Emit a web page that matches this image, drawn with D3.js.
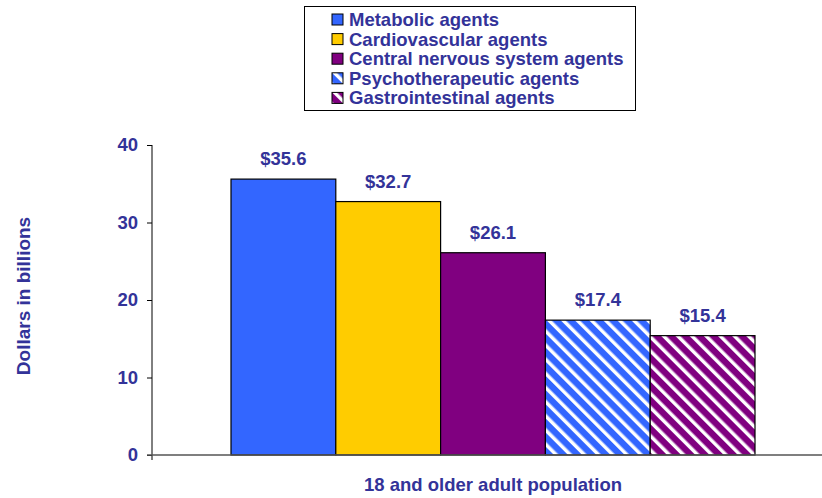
<!DOCTYPE html>
<html>
<head>
<meta charset="utf-8">
<script src="https://cdn.jsdelivr.net/npm/d3@7"></script>
<style>
  body { margin: 0; background: #fff; }
  text { font-family: "Liberation Sans", Arial, sans-serif; font-weight: bold; fill: #333399; }
</style>
</head>
<body>
<div id="chart"></div>
<script>
// data
var categories = ["Metabolic agents", "Cardiovascular agents", "Central nervous system agents",
  "Psychotherapeutic agents", "Gastrointestinal agents"];
var values = [35.6, 32.7, 26.1, 17.4, 15.4];
var colors = ["#3366ff", "#ffcc00", "#800080", "#3366ff", "#800080"];
var hatched = [false, false, false, true, true];
var yTicks = [0, 10, 20, 30, 40];
var groupLabel = "18 and older adult population";

var W = 822, H = 498;
var margin = {top: 145, right: 0, bottom: 43, left: 152};
var h = H - margin.top - margin.bottom;
var fs = "18.5px";

var svg = d3.select("#chart").append("svg")
  .attr("width", W).attr("height", H);

// stripe patterns for the last two series
var defs = svg.append("defs");
categories.forEach(function(c, i) {
  if (!hatched[i]) return;
  var p = defs.append("pattern")
    .attr("id", "hatch" + i)
    .attr("patternUnits", "userSpaceOnUse")
    .attr("width", 10).attr("height", 10)
    .attr("patternTransform", "rotate(-45)");
  p.append("rect").attr("width", 10).attr("height", 10).attr("fill", colors[i]);
  p.append("rect").attr("x", 0).attr("width", 3.5).attr("height", 10).attr("fill", "#fff");
});

var y = d3.scaleLinear().domain([0, 40]).range([margin.top + h, margin.top]);
var x = d3.scaleBand().domain(categories).range([231, 755]).paddingInner(0).paddingOuter(0);

// bars
svg.selectAll("rect.bar")
  .data(values)
  .enter()
  .append("rect")
  .attr("class", "bar")
  .attr("x", function(d, i) { return x(categories[i]); })
  .attr("y", function(d) { return y(d); })
  .attr("width", x.bandwidth())
  .attr("height", function(d) { return y(0) - y(d); })
  .attr("fill", function(d, i) { return hatched[i] ? "url(#hatch" + i + ")" : colors[i]; })
  .attr("stroke", "#000")
  .attr("stroke-width", 1.2);

// value labels
svg.selectAll("text.val")
  .data(values)
  .enter()
  .append("text")
  .attr("class", "val")
  .attr("text-anchor", "middle")
  .attr("x", function(d, i) { return x(categories[i]) + x.bandwidth() / 2; })
  .attr("y", function(d) { return y(d) - 14; })
  .attr("font-size", fs)
  .text(function(d) { return "$" + d.toFixed(1); });

// y axis
var yAxis = d3.axisLeft(y).tickValues(yTicks).tickSize(5).tickPadding(9);
var gy = svg.append("g").attr("transform", "translate(" + margin.left + ",0)").call(yAxis);
gy.select(".domain").attr("stroke", "#000").attr("d", "M0," + y(40) + "V" + (y(0) + 5));
gy.selectAll(".tick line").attr("stroke", "#000");
gy.selectAll(".tick text").attr("font-size", fs).attr("fill", "#333399")
  .style("font-family", "Liberation Sans, Arial, sans-serif").style("font-weight", "bold");

// x axis line
svg.append("line")
  .attr("x1", margin.left - 5).attr("x2", W)
  .attr("y1", y(0)).attr("y2", y(0))
  .attr("stroke", "#555").attr("stroke-width", 1.5);

// axis titles
svg.append("text")
  .attr("transform", "translate(30,296) rotate(-90)")
  .attr("text-anchor", "middle")
  .attr("font-size", "19px")
  .text("Dollars in billions");

svg.append("text")
  .attr("x", 493).attr("y", 491)
  .attr("text-anchor", "middle")
  .attr("font-size", fs)
  .text(groupLabel);

// legend
var lg = svg.append("g");
lg.append("rect")
  .attr("x", 304.5).attr("y", 6.5).attr("width", 331).attr("height", 104)
  .attr("fill", "#fff").attr("stroke", "#000").attr("stroke-width", 1);
var rows = lg.selectAll("g.row")
  .data(categories)
  .enter()
  .append("g")
  .attr("class", "row")
  .attr("transform", function(d, i) { return "translate(332," + (14 + i * 19.6) + ")"; });
rows.append("rect")
  .attr("width", 11).attr("height", 11)
  .attr("fill", function(d, i) { return hatched[i] ? "url(#hatch" + i + ")" : colors[i]; })
  .attr("stroke", "#000").attr("stroke-width", 1);
rows.append("text")
  .attr("x", 17).attr("y", 12)
  .attr("font-size", fs)
  .text(function(d) { return d; });
</script>
</body>
</html>
